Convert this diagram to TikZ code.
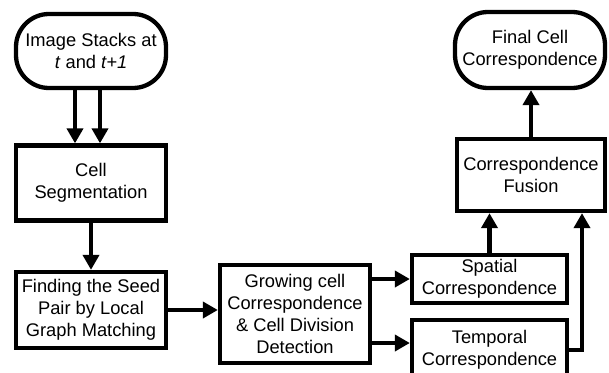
\documentclass[tikz,border=0pt]{standalone}
\usepackage{fontspec}
\setmainfont{Liberation Sans}
\usetikzlibrary{arrows.meta,calc}

\tikzset{
	block/.style={draw, line width=4.3pt, align=center, inner sep=2pt,
		font=\fontsize{18.3}{22}\selectfont},
	terminal/.style={block, rounded corners=33pt},
	arr/.style={line width=4.3pt, -{Triangle[length=15pt,width=16pt]}}
}

\begin{document}
\begin{tikzpicture}[x=1pt, y=-1pt]
	\useasboundingbox (0,0) rectangle (609,372);

	%Knoten
	\node[terminal, minimum width=150pt, minimum height=74pt] (stacks) at (91,51)
		{Image Stacks at\\\textit{t} and \textit{t+1}};
	\node[block, minimum width=150pt, minimum height=75pt] (seg) at (91,183)
		{Cell\\Segmentation};
	\node[block, minimum width=150pt, minimum height=76pt] (seed) at (91,310)
		{Finding the Seed\\Pair by Local\\Graph Matching};
	\node[block, minimum width=150pt, minimum height=98pt] (grow) at (295,314)
		{Growing cell\\Correspondence\\\& Cell Division\\Detection};
	\node[block, minimum width=155pt, minimum height=48pt] (spatial) at (489.5,279)
		{Spatial\\Correspondence};
	\node[block, minimum width=155pt, minimum height=60pt] (temporal) at (489.5,350)
		{Temporal\\Correspondence};
	\node[block, minimum width=148pt, minimum height=72pt] (fusion) at (531,175)
		{Correspondence\\Fusion};
	\node[terminal, minimum width=150pt, minimum height=76pt] (final) at (530,50)
		{Final Cell\\Correspondence};
	\coordinate (tin) at ([yshift=7pt]temporal.west);

	%Pfeile
	\draw[arr] ([xshift=-16pt]stacks.south) -- ([xshift=-16pt]seg.north);
	\draw[arr] ([xshift=9pt]stacks.south) -- ([xshift=9pt]seg.north);
	\draw[arr] (seg.south) -- (seed.north);
	\draw[arr] (seed.east) -- (seed.east -| grow.west);
	\draw[arr] (grow.east |- spatial.west) -- (spatial.west);
	\draw[arr] (grow.east |- tin) -- (tin);
	\draw[arr] (spatial.north) -- (spatial.north |- fusion.south);
	\draw[arr] (temporal.east) -| ([xshift=51pt]fusion.south);
	\draw[arr] (fusion.north) -- (fusion.north |- final.south);

\end{tikzpicture}
\end{document}
